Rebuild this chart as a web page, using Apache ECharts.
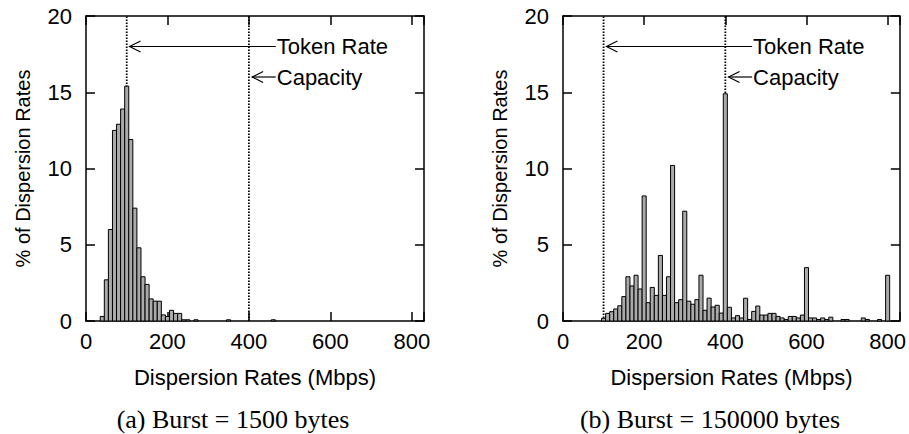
<!DOCTYPE html>
<html><head><meta charset="utf-8">
<script src="https://cdn.jsdelivr.net/npm/echarts@6/dist/echarts.min.js"></script>
<style>html,body{margin:0;padding:0;background:#fff}#c{width:909px;height:434px}</style>
</head><body><div id="c"></div>
<script>
// ---- data ----
const binCentersA = [40,50,60,70,80,90,100,110,120,130,140,150,160,170,180,190,200,210,220,230,240,250,270,350,460];
const percentA    = [0.3,2.7,6.0,12.5,12.9,13.9,15.4,11.9,7.4,4.8,2.9,2.4,1.45,1.3,1.3,0.4,0.3,0.7,0.5,0.5,0.08,0.08,0.08,0.08,0.08];

const binCentersB = [100,110,120,130,140,150,160,170,180,190,200,210,220,230,240,250,260,270,280,290,300,310,320,330,340,350,360,370,380,390,400,410,420,430,440,450,460,470,480,490,500,510,520,530,540,550,560,570,580,590,600,610,620,630,640,650,660,690,700,740,750,780,800];
const percentB    = [0.18,0.5,0.61,0.79,1.0,1.6,2.9,2.3,3.0,2.1,8.2,1.2,2.2,1.68,4.3,1.68,2.9,10.2,1.2,1.4,7.2,1.3,1.1,1.4,3.0,0.7,1.5,0.92,1.03,0.52,14.9,0.9,0.2,0.35,0.2,1.49,0.1,0.63,0.98,0.39,0.39,0.5,0.5,0.3,0.2,0.1,0.3,0.3,0.2,0.39,3.5,0.2,0.2,0.1,0.2,0.1,0.25,0.1,0.1,0.2,0.1,0.1,3.0];

const binWidth = 10;
const xTickLabels = [0,200,400,600,800];
const xMax = 830;
const yTickLabels = [0,5,10,15,20];
const tokenRate = 100;
const capacity = 400;
const annotationLabels = ['Token Rate','Capacity'];
const annotationY = [18,16];
const annotationTarget = [107,408];
const annotationTail = 466;
const captions = ['(a) Burst = 1500 bytes','(b) Burst = 150000 bytes'];
const xAxisTitle = 'Dispersion Rates (Mbps)';
const yAxisTitle = '% of Dispersion Rates';

// ---- chart ----
const SANS = '"Liberation Sans", Arial, sans-serif';
const SERIF = '"Liberation Serif", "Times New Roman", serif';
const chart = echarts.init(document.getElementById('c'), null, {renderer:'svg'});

const lineStyle = {color:'#000', width:1.5};
const tickStyle = {show:true, inside:true, length:9, lineStyle:{color:'#000', width:1.5}};

function xAxes(g){
  const base = {gridIndex:g, type:'value', min:xTickLabels[0], max:xMax,
    interval:xTickLabels[1]-xTickLabels[0], splitLine:{show:false},
    axisLine:{show:true, onZero:false, lineStyle}, axisTick:tickStyle};
  return [
    Object.assign({}, base, {position:'bottom',
      axisLabel:{show:true, color:'#000', fontSize:22, fontFamily:SANS, margin:9,
        formatter:v => xTickLabels.indexOf(v) >= 0 ? String(v) : ''},
      name:xAxisTitle, nameLocation:'middle', nameGap:45,
      nameTextStyle:{color:'#000', fontSize:22, fontFamily:SANS}}),
    Object.assign({}, base, {position:'top', axisLabel:{show:false}})
  ];
}
function yAxes(g){
  const base = {gridIndex:g, type:'value', min:yTickLabels[0], max:yTickLabels[yTickLabels.length-1],
    interval:yTickLabels[1]-yTickLabels[0], splitLine:{show:false},
    axisLine:{show:true, onZero:false, lineStyle}, axisTick:tickStyle};
  return [
    Object.assign({}, base, {position:'left',
      axisLabel:{show:true, color:'#000', fontSize:22, fontFamily:SANS, margin:14},
      name:yAxisTitle, nameLocation:'middle', nameGap:53,
      nameTextStyle:{color:'#000', fontSize:20, fontFamily:SANS}}),
    Object.assign({}, base, {position:'right', axisLabel:{show:false}})
  ];
}

function barSeries(xi, yi, centers, vals){
  return {type:'custom', xAxisIndex:xi, yAxisIndex:yi, z:3,
    data: centers.map((c,i)=>[c, vals[i]]),
    encode:{x:0, y:1},
    renderItem:(params, api)=>{
      const c = api.value(0), v = api.value(1);
      const p0 = api.coord([c - binWidth/2, v]);
      const p1 = api.coord([c + binWidth/2, 0]);
      return {type:'rect', shape:{x:p0[0], y:p0[1], width:p1[0]-p0[0], height:p1[1]-p0[1]},
        style:{fill:'#aaaaaa', stroke:'#000', lineWidth:1}};
    }};
}
function vline(xi, yi, x){
  return {type:'line', xAxisIndex:xi, yAxisIndex:yi, z:1, symbol:'none', silent:true,
    data:[[x, yTickLabels[0]],[x, yTickLabels[yTickLabels.length-1]]],
    lineStyle:{color:'#000', width:1.8, type:[1.5,1.5]}};
}
function arrows(xi, yi){
  return {type:'custom', xAxisIndex:xi, yAxisIndex:yi, z:4, clip:false,
    data: annotationLabels.map((l,i)=>[annotationTarget[i], annotationY[i], annotationTail, i]),
    encode:{x:[0,2], y:1},
    renderItem:(params, api)=>{
      const tip = api.coord([api.value(0), api.value(1)]);
      const tail = api.coord([api.value(2), api.value(1)]);
      const label = annotationLabels[api.value(3)];
      return {type:'group', children:[
        {type:'line', shape:{x1:tail[0], y1:tail[1], x2:tip[0], y2:tip[1]},
          style:{stroke:'#000', lineWidth:1.2}},
        {type:'polyline', shape:{points:[[tip[0]+11, tip[1]-5.5],[tip[0], tip[1]],[tip[0]+11, tip[1]+5.5]]},
          style:{stroke:'#000', lineWidth:1.2, fill:null}},
        {type:'text', style:{text:label, x:tail[0]+1, y:tail[1], fill:'#000',
          font:'22px ' + SANS, align:'left', verticalAlign:'middle'}}
      ]};
    }};
}

const option = {
  animation:false,
  backgroundColor:'#fff',
  grid:[
    {left:86, top:16, width:338, height:305},
    {left:563, top:16, width:337, height:305}
  ],
  xAxis:[...xAxes(0), ...xAxes(1)],
  yAxis:[...yAxes(0), ...yAxes(1)],
  series:[
    vline(0,0,tokenRate), vline(0,0,capacity),
    barSeries(0,0,binCentersA,percentA),
    arrows(0,0),
    vline(2,2,tokenRate), vline(2,2,capacity),
    barSeries(2,2,binCentersB,percentB),
    arrows(2,2)
  ],
  graphic:[
    {type:'text', x:233, y:419, style:{text:captions[0], fill:'#000', font:'26px ' + SERIF, align:'center', verticalAlign:'middle'}},
    {type:'text', x:710, y:419, style:{text:captions[1], fill:'#000', font:'26px ' + SERIF, align:'center', verticalAlign:'middle'}}
  ]
};
chart.setOption(option);
</script></body></html>
